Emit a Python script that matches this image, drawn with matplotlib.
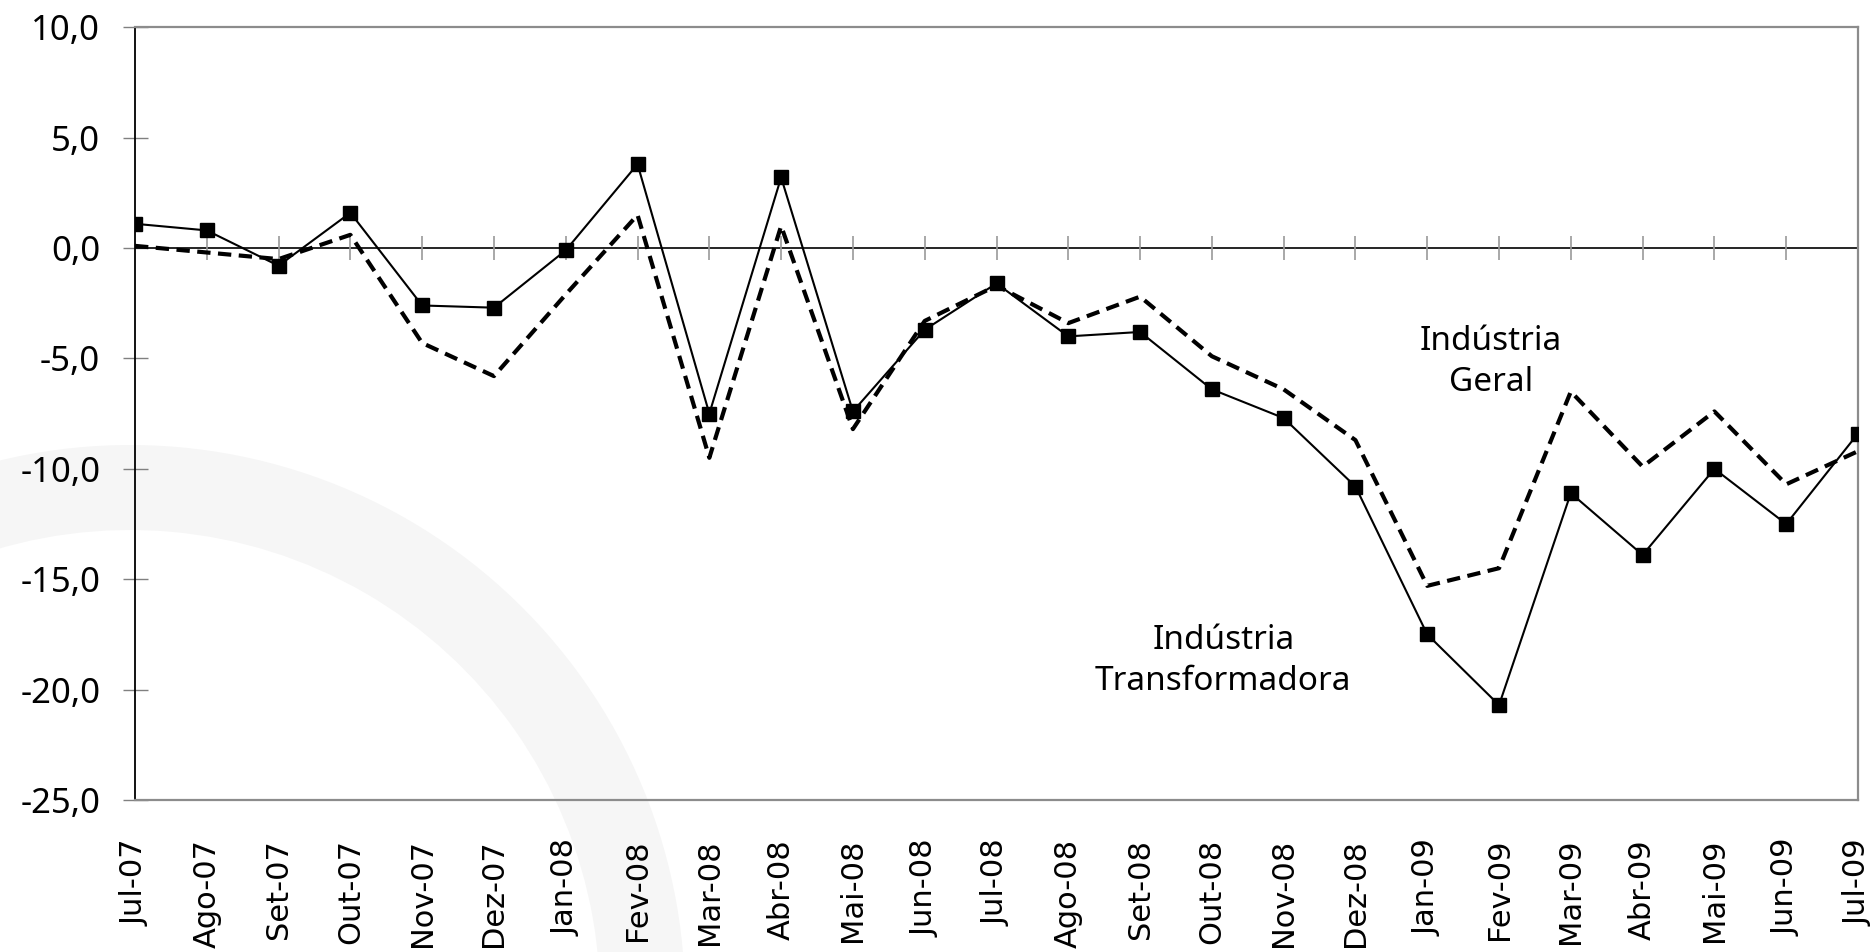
import matplotlib
matplotlib.use("Agg")
import matplotlib.pyplot as plt
from matplotlib.patches import Wedge
from matplotlib.transforms import IdentityTransform
import numpy as np

months = ["Jul-07", "Ago-07", "Set-07", "Out-07", "Nov-07", "Dez-07", "Jan-08",
          "Fev-08", "Mar-08", "Abr-08", "Mai-08", "Jun-08", "Jul-08", "Ago-08",
          "Set-08", "Out-08", "Nov-08", "Dez-08", "Jan-09", "Fev-09", "Mar-09",
          "Abr-09", "Mai-09", "Jun-09", "Jul-09"]

# Indústria Transformadora (solid, squares)
transformadora = [1.1, 0.8, -0.8, 1.6, -2.6, -2.7, -0.1, 3.8, -7.5, 3.2, -7.4,
                  -3.7, -1.6, -4.0, -3.8, -6.4, -7.7, -10.8, -17.5, -20.7,
                  -11.1, -13.9, -10.0, -12.5, -8.4]

# Indústria Geral (dashed)
geral = [0.1, -0.2, -0.5, 0.6, -4.3, -5.8, -2.1, 1.5, -9.5, 1.0, -8.2,
         -3.3, -1.7, -3.4, -2.2, -4.9, -6.4, -8.7, -15.3, -14.5,
         -6.5, -9.9, -7.4, -10.7, -9.2]

yticks = [10, 5, 0, -5, -10, -15, -20, -25]

W, H = 1876, 952
fig = plt.figure(figsize=(W / 100, H / 100), dpi=100)

# faint watermark band in the background
band = Wedge((130, H - 1000), 555, -15, 185, width=85, transform=IdentityTransform(),
             facecolor="#f6f6f6", edgecolor="none", zorder=-5)
fig.patches.append(band)

ax = fig.add_axes([135 / W, 1 - 800 / H, (1858 - 135) / W, (800 - 27.3) / H])
ax.set_facecolor("none")

x = np.arange(len(months))

ax.axhline(0, color="black", lw=1.2, zorder=2)
# tick marks sitting on the zero line
ax.plot(x[1:-1], np.zeros(len(x) - 2), ls="none", marker="|", ms=17,
        mew=1.2, color="#999999", zorder=2)

ax.plot(x, transformadora, color="black", lw=1.5, marker="s", ms=9.5,
        zorder=3)
ax.plot(x, geral, color="black", lw=3.0, dashes=(3.2, 1.8), zorder=4)

ax.set_xlim(0, len(months) - 1)
ax.set_ylim(-25, 10)

ax.set_yticks(yticks)
ax.set_yticklabels([f"{v:.1f}".replace(".", ",") for v in yticks],
                   family=["Noto Sans", "DejaVu Sans"], fontsize=25)
ax.tick_params(axis="y", direction="inout", length=18, width=1,
               color="#808080", pad=16)

ax.set_xticks(x)
ax.set_xticklabels(months, rotation=90, family="DejaVu Sans", fontsize=22)
ax.tick_params(axis="x", length=0, pad=28)

for side in ["top", "right", "bottom"]:
    ax.spines[side].set_color("#8c8c8c")
    ax.spines[side].set_linewidth(1.6)
ax.spines["left"].set_color("black")
ax.spines["left"].set_linewidth(1.3)

ax.text(18.89, -6.49, "Indústria\nGeral", ha="center", va="baseline",
        family=["Noto Sans", "DejaVu Sans"], fontsize=24, linespacing=1.32)
ax.text(15.16, -20.03, "Indústria\nTransformadora", ha="center", va="baseline",
        family=["Noto Sans", "DejaVu Sans"], fontsize=24, linespacing=1.32)

fig.savefig("out.png", dpi=100)
